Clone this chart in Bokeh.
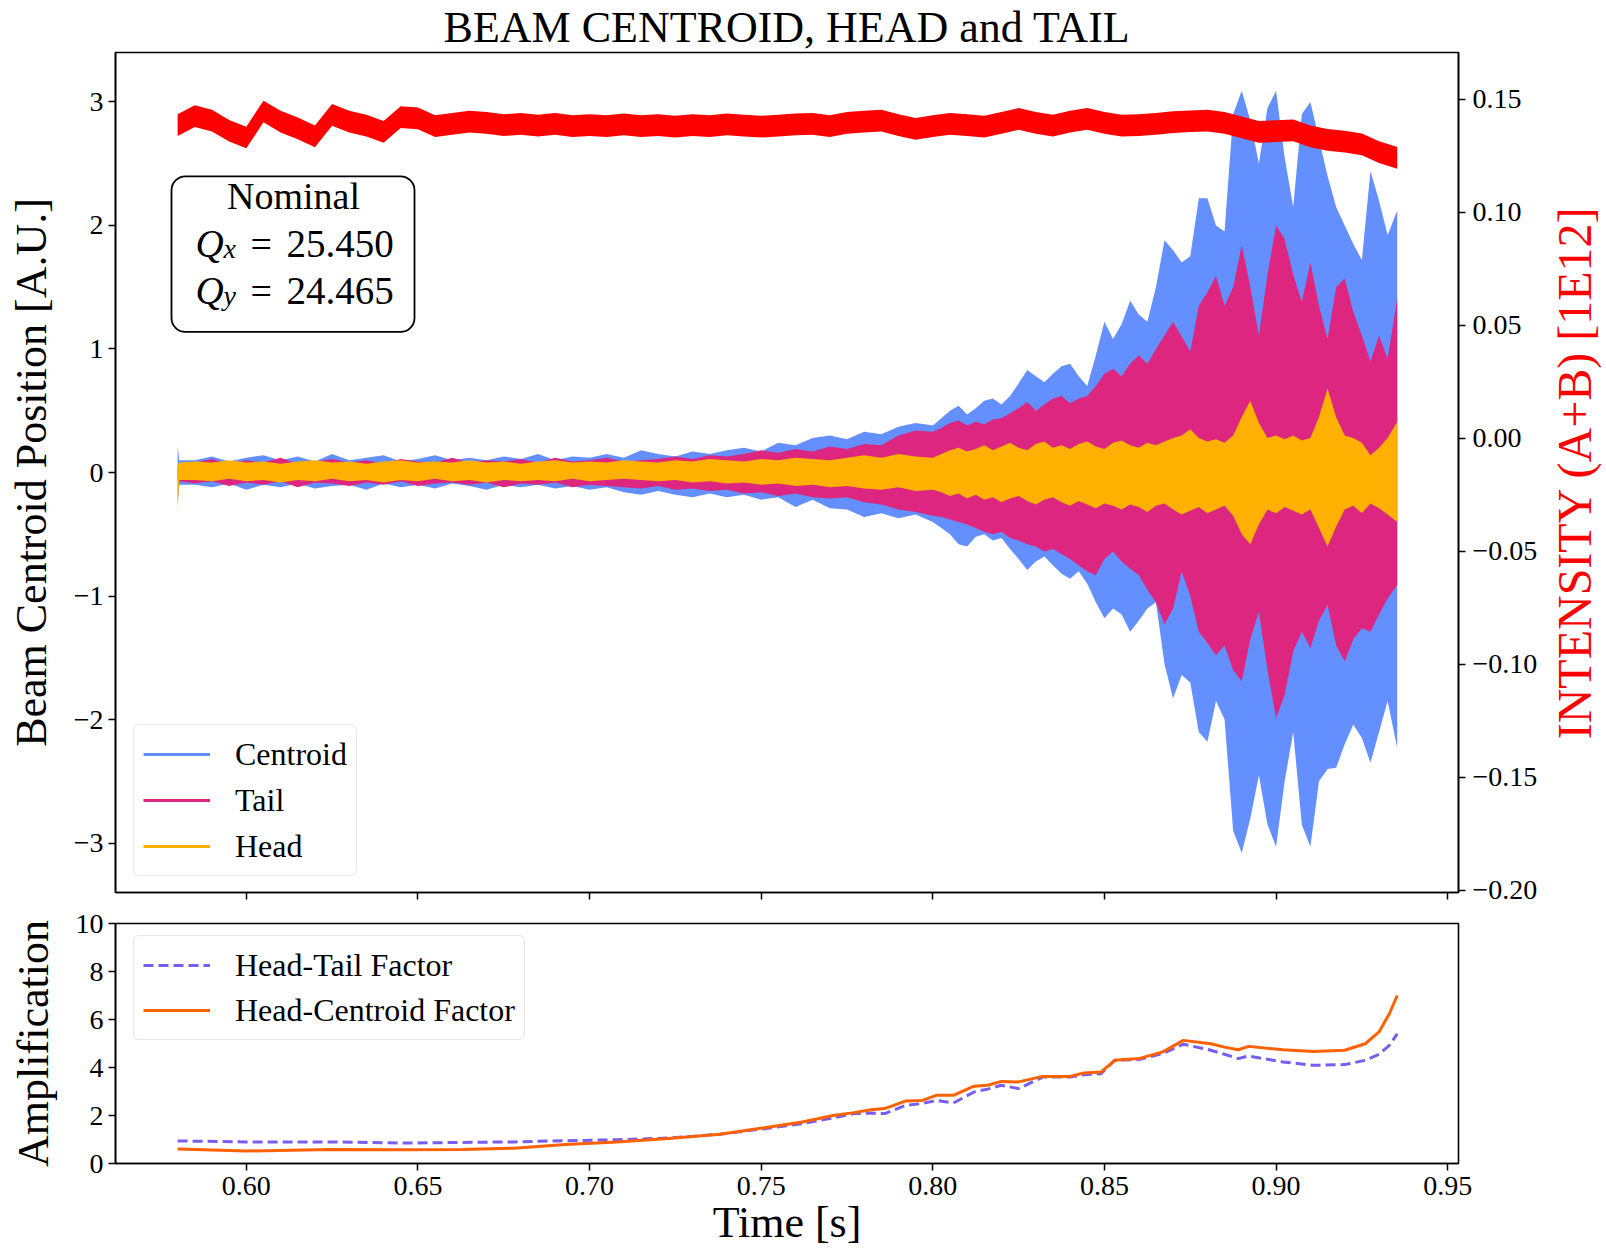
import math
from bokeh.plotting import figure
from bokeh.layouts import column, row
from bokeh.models import (Range1d, LinearAxis, FixedTicker, CustomJSTickFormatter, Label,
                          BoxAnnotation, Legend, LegendItem, ColumnDataSource)
from bokeh.embed import file_html
from bokeh.resources import INLINE

# ---------------------------------------------------------------- data
# sample times [s] of the turn-by-turn envelopes
T_SIG = [0.5800, 0.5805, 0.585, 0.590, 0.595, 0.600, 0.605, 0.610, 0.615, 0.620, 0.625, 0.630,
         0.635, 0.640, 0.645, 0.650, 0.655, 0.660, 0.665, 0.670, 0.675, 0.680, 0.685, 0.690,
         0.695, 0.700, 0.705, 0.710, 0.715, 0.720, 0.725, 0.730, 0.735, 0.740, 0.745, 0.750,
         0.755, 0.760, 0.765, 0.770, 0.775, 0.780, 0.785, 0.790, 0.795, 0.800,
         0.8025, 0.805, 0.8075, 0.810, 0.8125, 0.815, 0.8175, 0.820, 0.8225, 0.825, 0.8275,
         0.830, 0.8325, 0.835, 0.8375, 0.840, 0.8425, 0.845, 0.8475, 0.850, 0.8525, 0.855,
         0.8575, 0.860, 0.8625, 0.865, 0.8675, 0.870, 0.8725, 0.875, 0.8775, 0.880, 0.8825,
         0.885, 0.8875, 0.890, 0.8925, 0.895, 0.8975, 0.900, 0.9025, 0.905, 0.9075, 0.910,
         0.9125, 0.915, 0.9175, 0.920, 0.9225, 0.925, 0.9275, 0.930, 0.9325, 0.9353]

# centroid position envelope [A.U.]
CENTROID_HI = [0.21, 0.10, 0.10, 0.13, 0.09, 0.12, 0.14, 0.10, 0.13, 0.09, 0.15, 0.10, 0.12, 0.14,
               0.09, 0.11, 0.14, 0.10, 0.12, 0.10, 0.13, 0.11, 0.15, 0.10, 0.13, 0.12, 0.15, 0.12,
               0.18, 0.15, 0.13, 0.17, 0.15, 0.18, 0.20, 0.17, 0.24, 0.22, 0.28, 0.30, 0.27, 0.33,
               0.31, 0.37, 0.40, 0.38,
               0.44, 0.50, 0.54, 0.47, 0.52, 0.58, 0.60, 0.55, 0.62, 0.72, 0.83, 0.78, 0.73, 0.80,
               0.86, 0.88, 0.78, 0.70, 0.95, 1.22, 1.08, 1.20, 1.39, 1.28, 1.22, 1.50, 1.88, 1.80,
               1.70, 1.75, 2.22, 2.22, 2.00, 1.95, 2.90, 3.09, 2.85, 2.50, 2.95, 3.09, 2.55, 2.15,
               2.90, 3.00, 2.70, 2.40, 2.15, 2.00, 1.85, 1.72, 2.44, 2.20, 1.92, 2.12]
CENTROID_LO = [-0.25, -0.10, -0.10, -0.12, -0.09, -0.14, -0.10, -0.12, -0.09, -0.13, -0.11, -0.10,
               -0.14, -0.09, -0.12, -0.10, -0.13, -0.09, -0.11, -0.14, -0.10, -0.12, -0.10, -0.13,
               -0.11, -0.14, -0.12, -0.16, -0.18, -0.15, -0.18, -0.20, -0.17, -0.20, -0.18, -0.22,
               -0.20, -0.28, -0.22, -0.29, -0.30, -0.36, -0.33, -0.37, -0.34, -0.40,
               -0.45, -0.50, -0.58, -0.60, -0.52, -0.50, -0.55, -0.53, -0.62, -0.70, -0.79, -0.72,
               -0.68, -0.75, -0.82, -0.86, -0.80, -0.90, -1.05, -1.18, -1.10, -1.15, -1.29, -1.20,
               -1.10, -1.05, -1.55, -1.83, -1.64, -1.70, -2.10, -2.18, -1.85, -2.00, -2.90, -3.08,
               -2.80, -2.45, -2.85, -3.03, -2.50, -2.10, -2.85, -3.03, -2.50, -2.40, -2.39, -2.20,
               -2.04, -2.15, -2.35, -2.10, -1.85, -2.23]

# tail position envelope [A.U.]
TAIL_HI = [0.05, 0.07, 0.08, 0.11, 0.07, 0.10, 0.08, 0.12, 0.07, 0.09, 0.11, 0.08, 0.10, 0.07,
           0.11, 0.09, 0.08, 0.12, 0.08, 0.10, 0.09, 0.11, 0.08, 0.12, 0.09, 0.10, 0.12, 0.09,
           0.10, 0.11, 0.13, 0.11, 0.14, 0.13, 0.15, 0.18, 0.16, 0.19, 0.17, 0.21, 0.19, 0.23,
           0.22, 0.30, 0.34, 0.33,
           0.36, 0.40, 0.42, 0.38, 0.41, 0.39, 0.43, 0.44, 0.48, 0.52, 0.57, 0.50, 0.55, 0.60,
           0.62, 0.56, 0.60, 0.62, 0.70, 0.80, 0.84, 0.78, 0.88, 0.95, 0.88, 1.00, 1.11, 1.22,
           1.10, 0.98, 1.35, 1.46, 1.59, 1.35, 1.50, 1.84, 1.50, 1.11, 1.60, 2.00, 1.89, 1.60,
           1.38, 1.70, 1.35, 1.08, 1.50, 1.57, 1.30, 1.11, 0.90, 1.11, 0.92, 1.41]
TAIL_LO = [-0.05, -0.07, -0.09, -0.07, -0.11, -0.08, -0.10, -0.07, -0.12, -0.08, -0.09, -0.11,
           -0.08, -0.10, -0.07, -0.11, -0.09, -0.08, -0.10, -0.08, -0.12, -0.09, -0.10, -0.08,
           -0.12, -0.10, -0.11, -0.12, -0.13, -0.11, -0.14, -0.13, -0.15, -0.14, -0.17, -0.16,
           -0.19, -0.17, -0.20, -0.21, -0.20, -0.24, -0.26, -0.30, -0.32, -0.35,
           -0.36, -0.38, -0.40, -0.42, -0.45, -0.48, -0.50, -0.48, -0.53, -0.55, -0.58, -0.60,
           -0.64, -0.62, -0.66, -0.70, -0.75, -0.80, -0.83, -0.70, -0.64, -0.72, -0.78, -0.83,
           -0.95, -1.05, -1.23, -1.10, -0.80, -1.00, -1.29, -1.38, -1.48, -1.40, -1.60, -1.69,
           -1.35, -1.13, -1.60, -1.99, -1.80, -1.45, -1.29, -1.42, -1.20, -1.07, -1.40, -1.53,
           -1.35, -1.26, -1.29, -1.15, -1.02, -0.91]

# head position envelope [A.U.]
HEAD_HI = [0.06, 0.08, 0.09, 0.08, 0.10, 0.08, 0.09, 0.07, 0.09, 0.10, 0.08, 0.09, 0.07, 0.09,
           0.10, 0.08, 0.09, 0.08, 0.10, 0.08, 0.09, 0.07, 0.09, 0.10, 0.08, 0.09, 0.08, 0.10,
           0.09, 0.08, 0.10, 0.09, 0.11, 0.10, 0.09, 0.11, 0.10, 0.12, 0.11, 0.10, 0.12, 0.14,
           0.12, 0.15, 0.13, 0.12,
           0.15, 0.18, 0.20, 0.17, 0.19, 0.22, 0.18, 0.21, 0.24, 0.20, 0.18, 0.23, 0.25, 0.20,
           0.22, 0.19, 0.23, 0.25, 0.21, 0.19, 0.24, 0.26, 0.22, 0.20, 0.24, 0.22, 0.25, 0.28,
           0.30, 0.35, 0.28, 0.25, 0.27, 0.24, 0.30, 0.45, 0.58, 0.40, 0.28, 0.30, 0.27, 0.30,
           0.26, 0.28, 0.45, 0.68, 0.45, 0.30, 0.28, 0.24, 0.14, 0.20, 0.28, 0.41]
HEAD_LO = [-0.30, -0.06, -0.06, -0.07, -0.05, -0.07, -0.06, -0.08, -0.06, -0.07, -0.05, -0.07,
           -0.06, -0.08, -0.06, -0.07, -0.05, -0.07, -0.06, -0.08, -0.06, -0.07, -0.06, -0.07,
           -0.05, -0.07, -0.06, -0.05, -0.06, -0.07, -0.06, -0.08, -0.07, -0.09, -0.08, -0.10,
           -0.09, -0.11, -0.10, -0.12, -0.11, -0.13, -0.14, -0.12, -0.15, -0.14,
           -0.16, -0.19, -0.17, -0.21, -0.18, -0.22, -0.20, -0.24, -0.21, -0.19, -0.23, -0.26,
           -0.22, -0.20, -0.24, -0.27, -0.23, -0.26, -0.29, -0.25, -0.27, -0.30, -0.26, -0.28,
           -0.32, -0.27, -0.25, -0.30, -0.34, -0.31, -0.28, -0.33, -0.30, -0.27, -0.35, -0.50,
           -0.58, -0.42, -0.30, -0.33, -0.28, -0.31, -0.34, -0.30, -0.45, -0.60, -0.44, -0.30,
           -0.27, -0.33, -0.25, -0.29, -0.34, -0.40]

# beam intensity (A+B) [1E12]
INT_T = [0.580, 0.585, 0.590, 0.595, 0.600, 0.605, 0.610, 0.615, 0.620, 0.625, 0.630, 0.635,
         0.640, 0.645, 0.650, 0.655, 0.660, 0.665, 0.670, 0.675, 0.680, 0.685, 0.690, 0.695,
         0.700, 0.705, 0.710, 0.715, 0.720, 0.725, 0.730, 0.735, 0.740, 0.745, 0.750, 0.755,
         0.760, 0.765, 0.770, 0.775, 0.780, 0.785, 0.790, 0.795, 0.800, 0.805, 0.810, 0.815,
         0.820, 0.825, 0.830, 0.835, 0.840, 0.845, 0.850, 0.855, 0.860, 0.865, 0.870, 0.875,
         0.880, 0.885, 0.890, 0.895, 0.900, 0.905, 0.910, 0.915, 0.920, 0.925, 0.930, 0.9353]
INT_MID = [0.1385, 0.1425, 0.1405, 0.1360, 0.1330, 0.1445, 0.1400, 0.1370, 0.1335, 0.1430,
           0.1400, 0.1383, 0.1355, 0.1420, 0.1415, 0.1380, 0.1390, 0.1400, 0.1395, 0.1385,
           0.1390, 0.1383, 0.1390, 0.1380, 0.1385, 0.1380, 0.1388, 0.1380, 0.1385, 0.1378,
           0.1385, 0.1380, 0.1388, 0.1383, 0.1378, 0.1383, 0.1388, 0.1390, 0.1380, 0.1395,
           0.1400, 0.1405, 0.1385, 0.1368, 0.1380, 0.1390, 0.1385, 0.1378, 0.1395, 0.1412,
           0.1395, 0.1383, 0.1400, 0.1412, 0.1395, 0.1383, 0.1385, 0.1390, 0.1398, 0.1402,
           0.1405, 0.1395, 0.1375, 0.1355, 0.1358, 0.1362, 0.1335, 0.1320, 0.1312, 0.1300,
           0.1265, 0.1240]
INT_HALF = 0.0048  # half-width of the shot-to-shot noise band

# amplification factors
AMP_T = [0.580, 0.600, 0.624, 0.646, 0.663, 0.678, 0.693, 0.708, 0.723, 0.738, 0.751, 0.762,
         0.771, 0.777, 0.782, 0.786, 0.792, 0.797, 0.801, 0.806, 0.812, 0.816, 0.820, 0.825,
         0.832, 0.840, 0.844, 0.849, 0.853, 0.860, 0.867, 0.873, 0.881, 0.885, 0.889, 0.892,
         0.902, 0.911, 0.920, 0.926, 0.930, 0.933, 0.9353]
HEAD_TAIL = [0.94, 0.90, 0.90, 0.85, 0.88, 0.90, 0.95, 0.99, 1.06, 1.22, 1.45, 1.66, 1.90, 2.08,
             2.10, 2.08, 2.42, 2.50, 2.63, 2.52, 2.98, 3.10, 3.26, 3.12, 3.60, 3.60, 3.70, 3.74,
             4.30, 4.33, 4.58, 4.97, 4.72, 4.55, 4.37, 4.48, 4.23, 4.09, 4.12, 4.30, 4.55, 4.92,
             5.40]
HEAD_CENTROID = [0.60, 0.52, 0.58, 0.57, 0.58, 0.64, 0.79, 0.90, 1.04, 1.22, 1.49, 1.73, 2.00,
                 2.12, 2.24, 2.29, 2.60, 2.63, 2.84, 2.84, 3.22, 3.26, 3.42, 3.40, 3.63, 3.63,
                 3.77, 3.81, 4.30, 4.37, 4.65, 5.13, 4.99, 4.85, 4.74, 4.88, 4.74, 4.67, 4.72,
                 4.99, 5.48, 6.24, 7.00]

for arr in (CENTROID_HI, CENTROID_LO, TAIL_HI, TAIL_LO, HEAD_HI, HEAD_LO):
    assert len(arr) == len(T_SIG), len(arr)
assert len(INT_MID) == len(INT_T)
assert len(HEAD_TAIL) == len(AMP_T) == len(HEAD_CENTROID)

# ---------------------------------------------------------------- style
BLUE, MAGENTA, GOLD = "#648FFF", "#DC267F", "#FFB000"
PURPLE, ORANGE = "#785EF0", "#FE6100"
FONT = "Liberation Serif"
TICK_PX = "28px"
LABEL_PX = "44px"

FRAME_W = 1343
X0 = 0.5619
X1 = X0 + FRAME_W * (0.05 / 171.63)
PX = (X1 - X0) / FRAME_W  # data units per screen pixel along x
BORDER_L = 115
SIDE_W = 60                 # strip right of the upper panel holding the intensity label
TOP_W = 1606 - SIDE_W
TOP_H = 904


def minus_fmt(digits):
    return CustomJSTickFormatter(
        code="return tick.toFixed(%d).replace('-', '\u2212');" % digits)


def style_axis(ax, ticks, digits):
    ax.ticker = FixedTicker(ticks=ticks)
    ax.formatter = minus_fmt(digits)
    ax.minor_tick_line_color = None
    ax.major_tick_in = 0
    ax.major_tick_out = 7
    ax.major_tick_line_width = 1.5
    ax.major_tick_line_color = "black"
    ax.axis_line_color = "black"
    ax.axis_line_width = 1.6
    ax.major_label_text_font = FONT
    ax.major_label_text_font_size = TICK_PX
    ax.major_label_text_color = "black"
    ax.axis_label_text_font = FONT
    ax.axis_label_text_font_size = LABEL_PX
    ax.axis_label_text_font_style = "normal"
    ax.axis_label_text_color = "black"


def base_figure(width, height, y0, y1, top, bottom, x_range):
    p = figure(width=width, height=height, x_range=x_range, y_range=Range1d(y0, y1),
               output_backend="svg", toolbar_location=None,
               min_border_left=BORDER_L, min_border_right=width - BORDER_L - FRAME_W,
               min_border_top=top, min_border_bottom=bottom)
    p.grid.visible = False
    p.outline_line_color = "black"
    p.outline_line_width = 1.6
    p.background_fill_color = "white"
    p.border_fill_color = "white"
    return p


def add_legend(p, entries, loc, spacing):
    items = [LegendItem(label=lab, renderers=[r]) for lab, r in entries]
    leg = Legend(items=items, location=loc, margin=0, padding=9, spacing=spacing,
                 glyph_width=67, glyph_height=40, label_height=40, label_standoff=25,
                 label_text_font=FONT, label_text_font_size="32px", label_text_color="black",
                 border_line_color="#d0d0d0", border_line_width=1.5,
                 background_fill_color="white", background_fill_alpha=0.8)
    if "border_radius" in Legend.properties():
        leg.border_radius = 6
    p.add_layout(leg)


def text(p, x, y, s, size, color="black", **kw):
    kw.setdefault("text_align", "center")
    kw.setdefault("text_baseline", "middle")
    p.add_layout(Label(x=x, y=y, text=s, text_font=FONT, text_font_size=size,
                       text_color=color, **kw))


# ---------------------------------------------------------------- upper panel
xr = Range1d(X0, X1)
top = base_figure(TOP_W, TOP_H, -3.40, 3.40, 50, 12, xr)
top.extra_y_ranges = {"intensity": Range1d(-0.2009, 0.1706)}

top.title.text = "BEAM CENTROID, HEAD and TAIL"
top.title.align = "center"
top.title.text_font = FONT
top.title.text_font_size = LABEL_PX
top.title.text_font_style = "normal"
top.title.text_color = "black"
top.title.standoff = 1

sig = ColumnDataSource(dict(t=T_SIG, c_lo=CENTROID_LO, c_hi=CENTROID_HI, t_lo=TAIL_LO,
                            t_hi=TAIL_HI, h_lo=HEAD_LO, h_hi=HEAD_HI,
                            key=[float("nan")] * len(T_SIG)))
top.varea(x="t", y1="c_lo", y2="c_hi", source=sig, fill_color=BLUE)
top.varea(x="t", y1="t_lo", y2="t_hi", source=sig, fill_color=MAGENTA)
top.varea(x="t", y1="h_lo", y2="h_hi", source=sig, fill_color=GOLD)

int_lo = [m - INT_HALF for m in INT_MID]
int_hi = [m + INT_HALF for m in INT_MID]
top.varea(x=INT_T, y1=int_lo, y2=int_hi, fill_color="#FF0000", y_range_name="intensity")

style_axis(top.yaxis[0], [-3, -2, -1, 0, 1, 2, 3], 0)
top.yaxis[0].major_label_standoff = 5
top.yaxis[0].axis_label = "Beam Centroid Position [A.U.]"
top.yaxis[0].axis_label_standoff = 15
style_axis(top.xaxis[0], [0.60, 0.65, 0.70, 0.75, 0.80, 0.85, 0.90, 0.95], 2)
top.xaxis[0].formatter = CustomJSTickFormatter(code="return '';")
top.xaxis[0].major_label_text_font_size = "0px"
top.xaxis[0].major_label_standoff = 0

right = LinearAxis(y_range_name="intensity")
style_axis(right, [-0.20, -0.15, -0.10, -0.05, 0.00, 0.05, 0.10, 0.15], 2)
right.major_label_standoff = 7
top.add_layout(right, "right")

# legend keys: line styles of the three signals (no points of their own)
lc = top.line(x="t", y="key", source=sig, line_color=BLUE, line_width=3)
lt = top.line(x="t", y="key", source=sig, line_color=MAGENTA, line_width=3)
lh = top.line(x="t", y="key", source=sig, line_color=GOLD, line_width=3)
add_legend(top, [("Centroid", lc), ("Tail", lt), ("Head", lh)], (18, 16), 6)

# tune annotation box
box = BoxAnnotation(left=X0 + 56 * PX, right=X0 + 299 * PX, bottom=1.138, top=2.398,
                    fill_color="white", fill_alpha=1.0, line_color="black", line_width=1.8,
                    line_alpha=1.0)
if "border_radius" in BoxAnnotation.properties():
    box.border_radius = 14
top.add_layout(box)
UP = 0.107
text(top, X0 + 178 * PX, 2.132 + UP, "Nominal", "38px", text_baseline="alphabetic")
for yb, sub in ((1.744 + UP, "x"), (1.364 + UP, "y")):
    text(top, X0 + 80 * PX, yb, "Q", "39px", text_align="left", text_baseline="alphabetic",
         text_font_style="italic")
    text(top, X0 + 108 * PX, yb - 0.040, sub, "28px", text_align="left",
         text_baseline="alphabetic", text_font_style="italic")
text(top, X0 + 135 * PX, 1.744 + UP, "=", "38px", text_align="left", text_baseline="alphabetic")
text(top, X0 + 171 * PX, 1.744 + UP, "25.450", "39px", text_align="left",
     text_baseline="alphabetic")
text(top, X0 + 135 * PX, 1.364 + UP, "=", "38px", text_align="left", text_baseline="alphabetic")
text(top, X0 + 171 * PX, 1.364 + UP, "24.465", "39px", text_align="left",
     text_baseline="alphabetic")

# strip holding the right-hand axis name, read bottom to top
side = figure(width=SIDE_W, height=TOP_H, x_range=Range1d(0, SIDE_W), y_range=Range1d(0, TOP_H),
              x_axis_type=None, y_axis_type=None, output_backend="svg", toolbar_location=None,
              min_border=0)
side.grid.visible = False
side.outline_line_color = None
side.background_fill_color = "white"
side.border_fill_color = "white"
text(side, 28, TOP_H - 452, "INTENSITY (A+B) [1E12]", "48px", color="#FF0000",
     angle=math.pi / 2)

# ---------------------------------------------------------------- lower panel
bot = base_figure(1606, 1255 - TOP_H, 0, 10, 19, 92, xr)
r_ht = bot.line(AMP_T, HEAD_TAIL, line_color=PURPLE, line_width=3, line_dash="10 5")
r_hc = bot.line(AMP_T, HEAD_CENTROID, line_color=ORANGE, line_width=3)
style_axis(bot.yaxis[0], [0, 2, 4, 6, 8, 10], 0)
bot.yaxis[0].major_label_standoff = 5
bot.yaxis[0].axis_label = "Amplification"
bot.yaxis[0].axis_label_standoff = 15
style_axis(bot.xaxis[0], [0.60, 0.65, 0.70, 0.75, 0.80, 0.85, 0.90, 0.95], 2)
bot.xaxis[0].major_label_standoff = 6
bot.xaxis[0].axis_label = "Time [s]"
bot.xaxis[0].axis_label_standoff = 0
add_legend(bot, [("Head-Tail Factor", r_ht), ("Head-Centroid Factor", r_hc)], (18, 123), 5)

layout = column(row(top, side, spacing=0), bot, spacing=0)
open("out.html", "w").write(file_html(layout, INLINE))
